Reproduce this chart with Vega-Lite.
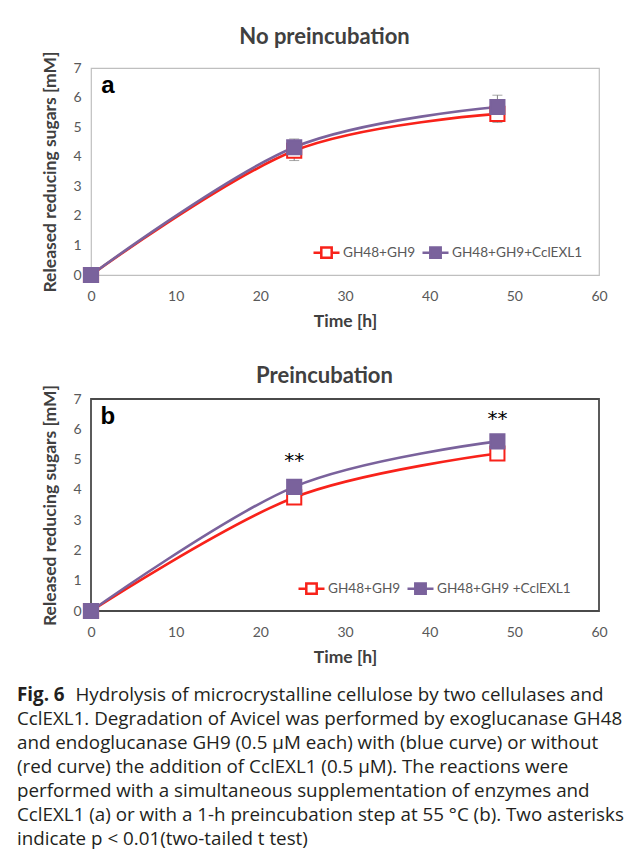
{
  "$schema": "https://vega.github.io/schema/vega-lite/v6.json",
  "padding": {"left": 16, "top": 25, "right": 0, "bottom": 0},
  "background": "white",
  "spacing": 33,
  "title": {
    "text": "Fig. 6",
    "subtitle": [
      "\u200b\u00a0\u00a0\u00a0\u00a0\u00a0\u00a0\u00a0\u00a0\u00a0\u00a0\u00a0\u00a0Hydrolysis of microcrystalline cellulose by two cellulases and",
      "CclEXL1. Degradation of Avicel was performed by exoglucanase GH48",
      "and endoglucanase GH9 (0.5 μM each) with (blue curve) or without",
      "(red curve) the addition of CclEXL1 (0.5 μM). The reactions were",
      "performed with a simultaneous supplementation of enzymes and",
      "CclEXL1 (a) or with a 1-h preincubation step at 55 °C (b). Two asterisks",
      "indicate p < 0.01(two-tailed t test)"
    ],
    "orient": "bottom",
    "anchor": "start",
    "frame": "bounds",
    "dx": -24,
    "offset": 20,
    "font": "Open Sans",
    "fontSize": 18.8,
    "fontWeight": "bold",
    "color": "#231f20",
    "subtitleFont": "Open Sans",
    "subtitleFontSize": 18.8,
    "subtitleFontWeight": "normal",
    "subtitleColor": "#231f20",
    "subtitleLineHeight": 24,
    "subtitlePadding": -18.8
  },
  "resolve": {"scale": {"stroke": "independent", "fill": "independent", "x": "independent", "y": "independent"}, "legend": {"stroke": "independent", "fill": "independent"}},
  "config": {
    "font": "Lato",
    "title": {"font": "Lato", "fontSize": 22, "fontWeight": "bold", "color": "#404040", "anchor": "middle", "frame": "bounds"},
    "axis": {"grid": false, "domain": false, "ticks": false, "labelFlush": false, "labelFont": "Lato", "labelFontSize": 14, "labelColor": "#595959", "titleFont": "Lato", "titleFontSize": 17.5, "titleFontWeight": "bold", "titleColor": "#404040"},
    "axisX": {"labelPadding": 14, "titlePadding": 9},
    "axisY": {"labelPadding": 10, "titlePadding": 13},
    "legend": {"labelFont": "Lato", "labelFontSize": 13.6, "labelColor": "#595959", "symbolType": "M-1,0H-0.4M0.4,0H1M-0.4,-0.4H0.4V0.4H-0.4Z", "symbolSize": 676, "symbolStrokeWidth": 2.5, "columnPadding": 1, "labelOffset": 2, "orient": "none", "direction": "horizontal", "title": null, "padding": 0}
  },
  "datasets": {
    "a": [
      {"series": "GH48+GH9", "time": 0, "sugar": 0},
      {"series": "GH48+GH9", "time": 24, "sugar": 4.2},
      {"series": "GH48+GH9", "time": 48, "sugar": 5.45},
      {"series": "GH48+GH9+CclEXL1", "time": 0, "sugar": 0},
      {"series": "GH48+GH9+CclEXL1", "time": 24, "sugar": 4.32},
      {"series": "GH48+GH9+CclEXL1", "time": 48, "sugar": 5.68}
    ],
    "err_a": [
      {"series": "GH48+GH9", "time": 24, "lo": 3.87, "hi": 4.5},
      {"series": "GH48+GH9", "time": 48, "lo": 5.16, "hi": 5.7},
      {"series": "GH48+GH9+CclEXL1", "time": 24, "lo": 4.1, "hi": 4.6},
      {"series": "GH48+GH9+CclEXL1", "time": 48, "lo": 5.3, "hi": 6.08}
    ],
    "b": [
      {"series": "GH48+GH9", "time": 0, "sugar": 0},
      {"series": "GH48+GH9", "time": 24, "sugar": 3.75},
      {"series": "GH48+GH9", "time": 48, "sugar": 5.2},
      {"series": "GH48+GH9 +CclEXL1", "time": 0, "sugar": 0},
      {"series": "GH48+GH9 +CclEXL1", "time": 24, "sugar": 4.1},
      {"series": "GH48+GH9 +CclEXL1", "time": 48, "sugar": 5.6}
    ],
    "stars": [
      {"time": 24, "sugar": 4.95, "mark": "**"},
      {"time": 48, "sugar": 6.35, "mark": "**"}
    ],
    "panel_a": [{"time": 2.0, "sugar": 6.4, "label": "a"}],
    "panel_b": [{"time": 2.0, "sugar": 6.4, "label": "b"}]
  },
  "vconcat": [
    {
      "title": {"text": "No preincubation", "offset": 2},
      "width": 508,
      "height": 207,
      "view": {"stroke": "#bfbfbf", "strokeWidth": 1.2},
      "encoding": {
        "x": {"field": "time", "type": "quantitative", "scale": {"domain": [0, 60]}, "axis": {"values": [0, 10, 20, 30, 40, 50, 60], "title": "Time [h]"}},
        "y": {"field": "sugar", "type": "quantitative", "scale": {"domain": [0, 7]}, "axis": {"values": [0, 1, 2, 3, 4, 5, 6, 7], "title": "Released reducing sugars [mM]"}}
      },
      "layer": [
        {
          "data": {"name": "err_a"},
          "mark": {"type": "rule", "color": "#808080", "strokeWidth": 1},
          "encoding": {"y": {"field": "lo", "type": "quantitative"}, "y2": {"field": "hi"}}
        },
        {
          "data": {"name": "err_a"},
          "mark": {"type": "tick", "orient": "horizontal", "color": "#808080", "thickness": 1, "size": 10},
          "encoding": {"y": {"field": "lo", "type": "quantitative"}}
        },
        {
          "data": {"name": "err_a"},
          "mark": {"type": "tick", "orient": "horizontal", "color": "#808080", "thickness": 1, "size": 10},
          "encoding": {"y": {"field": "hi", "type": "quantitative"}}
        },
        {
          "data": {"name": "a"},
          "mark": {"type": "line", "interpolate": "cardinal", "tension": 0, "strokeWidth": 2.6},
          "encoding": {
            "stroke": {"field": "series", "type": "nominal", "scale": {"domain": ["GH48+GH9", "GH48+GH9+CclEXL1"], "range": ["#f8221a", "#7a629c"]}, "legend": {"legendX": 221, "legendY": 170}}
          }
        },
        {
          "data": {"name": "a"},
          "mark": {"type": "point", "shape": "square", "size": 200, "strokeWidth": 2, "opacity": 1, "filled": false},
          "encoding": {
            "stroke": {"field": "series", "type": "nominal", "scale": {"domain": ["GH48+GH9", "GH48+GH9+CclEXL1"], "range": ["#f8221a", "#7a629c"]}, "legend": {"legendX": 221, "legendY": 170}},
            "fill": {"field": "series", "type": "nominal", "scale": {"domain": ["GH48+GH9", "GH48+GH9+CclEXL1"], "range": ["#ffffff", "#7a629c"]}, "legend": {"legendX": 221, "legendY": 170}}
          }
        },
        {
          "data": {"name": "panel_a"},
          "mark": {"type": "text", "font": "Liberation Sans", "fontSize": 24, "fontWeight": "bold", "color": "#000000"},
          "encoding": {"text": {"field": "label"}}
        }
      ]
    },
    {
      "title": {"text": "Preincubation", "offset": -4},
      "width": 508,
      "height": 212,
      "view": {"stroke": "#4a4a4a", "strokeWidth": 1.8},
      "encoding": {
        "x": {"field": "time", "type": "quantitative", "scale": {"domain": [0, 60]}, "axis": {"values": [0, 10, 20, 30, 40, 50, 60], "title": "Time [h]"}},
        "y": {"field": "sugar", "type": "quantitative", "scale": {"domain": [0, 7]}, "axis": {"values": [0, 1, 2, 3, 4, 5, 6, 7], "title": "Released reducing sugars [mM]"}}
      },
      "layer": [
        {
          "data": {"name": "b"},
          "mark": {"type": "line", "interpolate": "cardinal", "tension": 0, "strokeWidth": 2.6},
          "encoding": {
            "stroke": {"field": "series", "type": "nominal", "scale": {"domain": ["GH48+GH9", "GH48+GH9 +CclEXL1"], "range": ["#f8221a", "#7a629c"]}, "legend": {"legendX": 206, "legendY": 175}}
          }
        },
        {
          "data": {"name": "b"},
          "mark": {"type": "point", "shape": "square", "size": 200, "strokeWidth": 2, "opacity": 1, "filled": false},
          "encoding": {
            "stroke": {"field": "series", "type": "nominal", "scale": {"domain": ["GH48+GH9", "GH48+GH9 +CclEXL1"], "range": ["#f8221a", "#7a629c"]}, "legend": {"legendX": 206, "legendY": 175}},
            "fill": {"field": "series", "type": "nominal", "scale": {"domain": ["GH48+GH9", "GH48+GH9 +CclEXL1"], "range": ["#ffffff", "#7a629c"]}, "legend": {"legendX": 206, "legendY": 175}}
          }
        },
        {
          "data": {"name": "stars"},
          "mark": {"type": "text", "font": "DejaVu Sans", "fontSize": 20, "color": "#000000", "letterSpacing": 2},
          "encoding": {"text": {"field": "mark"}}
        },
        {
          "data": {"name": "panel_b"},
          "mark": {"type": "text", "font": "Liberation Sans", "fontSize": 24, "fontWeight": "bold", "color": "#000000"},
          "encoding": {"text": {"field": "label"}}
        }
      ]
    }
  ]
}
